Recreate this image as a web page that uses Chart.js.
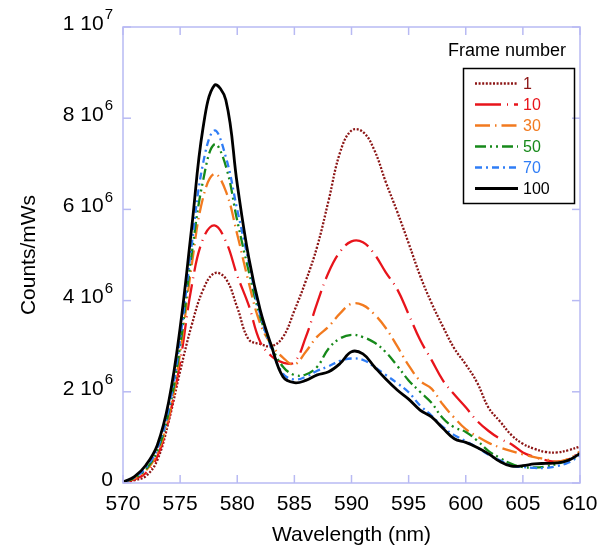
<!DOCTYPE html>
<html>
<head>
<meta charset="utf-8">
<script src="https://cdn.jsdelivr.net/npm/chart.js@4.4.1/dist/chart.umd.min.js"></script>
<style>
  html, body { margin: 0; padding: 0; background: #fff; }
  #wrap { width: 611px; height: 548px; }
</style>
</head>
<body>
<div id="wrap"><canvas id="chart"></canvas></div>
<script>
// wavelength grid (nm)
var wavelengths = [570, 571, 572, 573, 574, 575, 576, 577, 578, 579, 580,
  581, 582, 583, 584, 585, 586, 587, 588, 589, 590,
  591, 592, 593, 594, 595, 596, 597, 598, 599, 600,
  601, 602, 603, 604, 605, 606, 607, 608, 609, 610];

// counts/mWs, in units of 10^6, one array per frame number
var frame1 = [0.01, 0.06, 0.15, 0.5, 1.35, 2.45, 3.45, 4.23, 4.6, 4.48, 3.85,
  3.15, 3.05, 3.0, 3.2, 3.78, 4.43, 5.19, 6.2, 7.25, 7.73,
  7.7, 7.3, 6.6, 5.95, 5.26, 4.55, 3.95, 3.43, 2.95, 2.6,
  2.2, 1.65, 1.35, 1.05, 0.86, 0.75, 0.68, 0.67, 0.72, 0.8];
var frame10 = [0.02, 0.08, 0.22, 0.58, 1.4, 2.65, 4.3, 5.35, 5.65, 5.3, 4.55,
  3.9, 3.1, 2.78, 2.64, 2.65, 3.2, 3.95, 4.62, 5.07, 5.3,
  5.28, 5.02, 4.62, 4.25, 3.7, 3.14, 2.7, 2.25, 1.94, 1.66,
  1.36, 1.14, 0.97, 0.85, 0.67, 0.57, 0.5, 0.47, 0.52, 0.69];
var frame30 = [0.02, 0.1, 0.27, 0.65, 1.45, 2.85, 4.75, 6.25, 6.78, 6.4, 5.45,
  4.4, 3.5, 3.03, 2.75, 2.6, 2.88, 3.21, 3.43, 3.72, 3.93,
  3.9, 3.7, 3.4, 3.0, 2.58, 2.24, 2.07, 1.72, 1.43, 1.18,
  1.02, 0.88, 0.78, 0.7, 0.63, 0.57, 0.52, 0.47, 0.53, 0.69];
var frame50 = [0.02, 0.11, 0.3, 0.7, 1.55, 3.0, 5.0, 6.62, 7.43, 6.95, 5.75,
  4.65, 3.65, 3.0, 2.55, 2.37, 2.38, 2.55, 2.95, 3.17, 3.25,
  3.2, 3.08, 2.87, 2.57, 2.25, 2.0, 1.76, 1.42, 1.22, 1.12,
  0.93, 0.7, 0.55, 0.42, 0.35, 0.34, 0.36, 0.42, 0.5, 0.6];
var frame70 = [0.02, 0.12, 0.33, 0.75, 1.62, 3.15, 5.2, 7.0, 7.73, 7.15, 5.99,
  4.85, 3.7, 2.95, 2.4, 2.27, 2.33, 2.46, 2.56, 2.68, 2.73,
  2.7, 2.55, 2.37, 2.19, 1.99, 1.7, 1.48, 1.23, 1.05, 0.92,
  0.78, 0.62, 0.5, 0.38, 0.35, 0.33, 0.33, 0.37, 0.45, 0.6];
var frame100 = [0.02, 0.14, 0.39, 0.83, 1.78, 3.4, 5.57, 7.78, 8.72, 8.4, 6.55,
  4.95, 3.8, 3.0, 2.33, 2.2, 2.25, 2.37, 2.44, 2.62, 2.88,
  2.83, 2.55, 2.28, 2.04, 1.84, 1.6, 1.45, 1.2, 0.97, 0.89,
  0.78, 0.64, 0.47, 0.37, 0.38, 0.42, 0.43, 0.44, 0.5, 0.65];

var seriesNames = ['1', '10', '30', '50', '70', '100'];
var seriesValues = [frame1, frame10, frame30, frame50, frame70, frame100];
var seriesColors = ['#8c1515', '#e8141b', '#f27a1f', '#16891a', '#2f7df6', '#000000'];
var seriesDash = [[2, 1.6], [26, 6, 1, 6], [15, 5, 1.5, 5], [11, 4, 2, 4, 2, 4], [7, 4, 2, 4], []];
var seriesWidth = [2.3, 2.3, 2.3, 2.3, 2.3, 2.8];

var xTickValues = [570, 575, 580, 585, 590, 595, 600, 605, 610];
var yTickValues = [0, 2e6, 4e6, 6e6, 8e6, 1e7];
var yTickMantissa = ['0', '2 10', '4 10', '6 10', '8 10', '1 10'];
var yTickExponent = ['', '6', '6', '6', '6', '7'];

var legendTitle = 'Frame number';
var xTitle = 'Wavelength (nm)';
var yTitle = 'Counts/mWs';

var FONT = "'Liberation Sans', Arial, Helvetica, sans-serif";
var axisColor = '#b8baf3';

var datasets = [];
for (var s = 0; s < seriesValues.length; s++) {
  var pts = [];
  for (var i = 0; i < wavelengths.length; i++) {
    pts.push({ x: wavelengths[i], y: seriesValues[s][i] * 1e6 });
  }
  datasets.push({
    label: seriesNames[s],
    data: pts,
    borderColor: seriesColors[s],
    borderWidth: seriesWidth[s],
    borderDash: seriesDash[s],
    pointRadius: 0,
    fill: false,
    tension: 0.4,
    order: seriesValues.length - 1 - s
  });
}

function seg(ctx, x1, y1, x2, y2) {
  ctx.beginPath();
  ctx.moveTo(x1, y1);
  ctx.lineTo(x2, y2);
  ctx.stroke();
}

// frame with inward ticks, y labels with exponents, boxed legend
var decorPlugin = {
  id: 'decor',
  afterDraw: function(chart) {
    var ctx = chart.ctx;
    var a = chart.chartArea;
    var xs = chart.scales.x, ys = chart.scales.y;
    ctx.save();
    ctx.strokeStyle = axisColor;
    ctx.lineWidth = 1.5;
    ctx.setLineDash([]);
    ctx.strokeRect(a.left, a.top, a.right - a.left, a.bottom - a.top);
    xTickValues.forEach(function(v) {
      var px = xs.getPixelForValue(v);
      seg(ctx, px, a.bottom, px, a.bottom - 8);
      seg(ctx, px, a.top, px, a.top + 8);
    });
    yTickValues.forEach(function(v) {
      var py = ys.getPixelForValue(v);
      seg(ctx, a.left, py, a.left + 8, py);
      seg(ctx, a.right, py, a.right - 8, py);
    });

    // y tick labels
    ctx.fillStyle = '#000';
    ctx.textBaseline = 'middle';
    ctx.textAlign = 'right';
    var right = a.left - 10;
    for (var k = 0; k < yTickValues.length; k++) {
      var py = ys.getPixelForValue(yTickValues[k]) - 3;
      var ew = 0;
      if (yTickExponent[k]) {
        ctx.font = '15px ' + FONT;
        ew = ctx.measureText(yTickExponent[k]).width;
        ctx.fillText(yTickExponent[k], right, py - 9);
        ew += 1;
      }
      ctx.font = '21px ' + FONT;
      ctx.fillText(yTickMantissa[k], right - ew, py);
    }

    // legend
    ctx.textAlign = 'center';
    ctx.font = '18px ' + FONT;
    ctx.fillText(legendTitle, 507, 51);
    ctx.strokeStyle = '#000';
    ctx.lineWidth = 1.5;
    ctx.strokeRect(463.5, 68.5, 111, 135);
    ctx.textAlign = 'left';
    ctx.font = '16px ' + FONT;
    for (var j = 0; j < seriesNames.length; j++) {
      var ly = 83.5 + j * 21;
      ctx.strokeStyle = seriesColors[j];
      ctx.lineWidth = seriesWidth[j];
      ctx.setLineDash(seriesDash[j]);
      seg(ctx, 475, ly, 518, ly);
      ctx.setLineDash([]);
      ctx.fillStyle = seriesColors[j];
      ctx.fillText(seriesNames[j], 523, ly + 1);
    }
    ctx.restore();
  }
};

new Chart(document.getElementById('chart'), {
  type: 'line',
  data: { datasets: datasets },
  options: {
    responsive: true,
    maintainAspectRatio: false,
    animation: false,
    events: [],
    layout: { padding: { top: 27, right: 31, left: 0, bottom: 0 } },
    plugins: { legend: { display: false }, tooltip: { enabled: false } },
    scales: {
      x: {
        type: 'linear',
        min: 570,
        max: 610,
        grid: { display: false },
        border: { display: false },
        afterBuildTicks: function(scale) {
          scale.ticks = xTickValues.map(function(v) { return { value: v }; });
        },
        afterFit: function(scale) { scale.height = 65; },
        ticks: { color: '#000', font: { family: FONT, size: 21 }, padding: 1, maxRotation: 0 },
        title: { display: true, text: xTitle, color: '#000', font: { family: FONT, size: 21 }, padding: { top: 0, bottom: 0 } }
      },
      y: {
        type: 'linear',
        min: 0,
        max: 1e7,
        grid: { display: false },
        border: { display: false },
        afterFit: function(scale) { scale.width = 123; },
        ticks: { display: false },
        title: { display: true, text: yTitle, color: '#000', font: { family: FONT, size: 21 }, padding: { top: 17, bottom: 0 } }
      }
    }
  },
  plugins: [decorPlugin]
});
</script>
</body>
</html>
